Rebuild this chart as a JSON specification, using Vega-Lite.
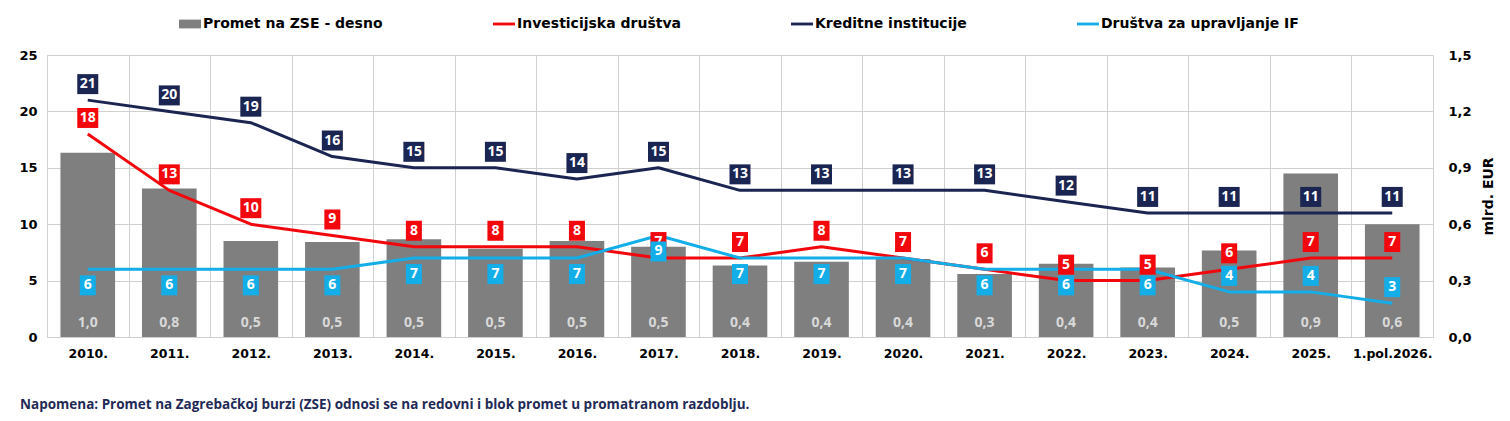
{
  "$schema": "https://vega.github.io/schema/vega-lite/v6.json",
  "width": 1386,
  "height": 282,
  "autosize": "none",
  "padding": {"left": 47, "top": 55, "right": 77, "bottom": 84},
  "background": "white",
  "datasets": {
    "promet": [
      {"godina": "2010.", "iznos": 0.98},
      {"godina": "2011.", "iznos": 0.79},
      {"godina": "2012.", "iznos": 0.51},
      {"godina": "2013.", "iznos": 0.505},
      {"godina": "2014.", "iznos": 0.52},
      {"godina": "2015.", "iznos": 0.47},
      {"godina": "2016.", "iznos": 0.51},
      {"godina": "2017.", "iznos": 0.48},
      {"godina": "2018.", "iznos": 0.38},
      {"godina": "2019.", "iznos": 0.40},
      {"godina": "2020.", "iznos": 0.415},
      {"godina": "2021.", "iznos": 0.335},
      {"godina": "2022.", "iznos": 0.39},
      {"godina": "2023.", "iznos": 0.37},
      {"godina": "2024.", "iznos": 0.46},
      {"godina": "2025.", "iznos": 0.87},
      {"godina": "1.pol.2026.", "iznos": 0.60}
    ],
    "linije": [
      {"godina": "2010.", "serija": "Kreditne institucije", "vrijednost": 21},
      {"godina": "2011.", "serija": "Kreditne institucije", "vrijednost": 20},
      {"godina": "2012.", "serija": "Kreditne institucije", "vrijednost": 19},
      {"godina": "2013.", "serija": "Kreditne institucije", "vrijednost": 16},
      {"godina": "2014.", "serija": "Kreditne institucije", "vrijednost": 15},
      {"godina": "2015.", "serija": "Kreditne institucije", "vrijednost": 15},
      {"godina": "2016.", "serija": "Kreditne institucije", "vrijednost": 14},
      {"godina": "2017.", "serija": "Kreditne institucije", "vrijednost": 15},
      {"godina": "2018.", "serija": "Kreditne institucije", "vrijednost": 13},
      {"godina": "2019.", "serija": "Kreditne institucije", "vrijednost": 13},
      {"godina": "2020.", "serija": "Kreditne institucije", "vrijednost": 13},
      {"godina": "2021.", "serija": "Kreditne institucije", "vrijednost": 13},
      {"godina": "2022.", "serija": "Kreditne institucije", "vrijednost": 12},
      {"godina": "2023.", "serija": "Kreditne institucije", "vrijednost": 11},
      {"godina": "2024.", "serija": "Kreditne institucije", "vrijednost": 11},
      {"godina": "2025.", "serija": "Kreditne institucije", "vrijednost": 11},
      {"godina": "1.pol.2026.", "serija": "Kreditne institucije", "vrijednost": 11},
      {"godina": "2010.", "serija": "Investicijska društva", "vrijednost": 18},
      {"godina": "2011.", "serija": "Investicijska društva", "vrijednost": 13},
      {"godina": "2012.", "serija": "Investicijska društva", "vrijednost": 10},
      {"godina": "2013.", "serija": "Investicijska društva", "vrijednost": 9},
      {"godina": "2014.", "serija": "Investicijska društva", "vrijednost": 8},
      {"godina": "2015.", "serija": "Investicijska društva", "vrijednost": 8},
      {"godina": "2016.", "serija": "Investicijska društva", "vrijednost": 8},
      {"godina": "2017.", "serija": "Investicijska društva", "vrijednost": 7},
      {"godina": "2018.", "serija": "Investicijska društva", "vrijednost": 7},
      {"godina": "2019.", "serija": "Investicijska društva", "vrijednost": 8},
      {"godina": "2020.", "serija": "Investicijska društva", "vrijednost": 7},
      {"godina": "2021.", "serija": "Investicijska društva", "vrijednost": 6},
      {"godina": "2022.", "serija": "Investicijska društva", "vrijednost": 5},
      {"godina": "2023.", "serija": "Investicijska društva", "vrijednost": 5},
      {"godina": "2024.", "serija": "Investicijska društva", "vrijednost": 6},
      {"godina": "2025.", "serija": "Investicijska društva", "vrijednost": 7},
      {"godina": "1.pol.2026.", "serija": "Investicijska društva", "vrijednost": 7},
      {"godina": "2010.", "serija": "Društva za upravljanje IF", "vrijednost": 6},
      {"godina": "2011.", "serija": "Društva za upravljanje IF", "vrijednost": 6},
      {"godina": "2012.", "serija": "Društva za upravljanje IF", "vrijednost": 6},
      {"godina": "2013.", "serija": "Društva za upravljanje IF", "vrijednost": 6},
      {"godina": "2014.", "serija": "Društva za upravljanje IF", "vrijednost": 7},
      {"godina": "2015.", "serija": "Društva za upravljanje IF", "vrijednost": 7},
      {"godina": "2016.", "serija": "Društva za upravljanje IF", "vrijednost": 7},
      {"godina": "2017.", "serija": "Društva za upravljanje IF", "vrijednost": 9},
      {"godina": "2018.", "serija": "Društva za upravljanje IF", "vrijednost": 7},
      {"godina": "2019.", "serija": "Društva za upravljanje IF", "vrijednost": 7},
      {"godina": "2020.", "serija": "Društva za upravljanje IF", "vrijednost": 7},
      {"godina": "2021.", "serija": "Društva za upravljanje IF", "vrijednost": 6},
      {"godina": "2022.", "serija": "Društva za upravljanje IF", "vrijednost": 6},
      {"godina": "2023.", "serija": "Društva za upravljanje IF", "vrijednost": 6},
      {"godina": "2024.", "serija": "Društva za upravljanje IF", "vrijednost": 4},
      {"godina": "2025.", "serija": "Društva za upravljanje IF", "vrijednost": 4},
      {"godina": "1.pol.2026.", "serija": "Društva za upravljanje IF", "vrijednost": 3}
    ]
  },
  "title": {
    "text": "Napomena: Promet na Zagrebačkoj burzi (ZSE) odnosi se na redovni i blok promet u promatranom razdoblju.",
    "orient": "bottom",
    "anchor": "start",
    "frame": "group",
    "dx": -27,
    "offset": 38,
    "font": "Open Sans",
    "fontSize": 13.5,
    "fontWeight": "bold",
    "color": "#1f2a56"
  },
  "encoding": {
    "x": {
      "field": "godina",
      "type": "nominal",
      "title": null,
      "scale": {
        "domain": ["2010.", "2011.", "2012.", "2013.", "2014.", "2015.", "2016.", "2017.", "2018.", "2019.", "2020.", "2021.", "2022.", "2023.", "2024.", "2025.", "1.pol.2026."],
        "paddingInner": 0,
        "paddingOuter": 0
      },
      "axis": {
        "labelAngle": 0,
        "labelOverlap": false,
        "grid": true,
        "tickBand": "extent",
        "ticks": false,
        "domain": false,
        "labelPadding": 10,
        "labelFontSize": 12.5
      }
    }
  },
  "layer": [
    {
      "data": {"name": "promet"},
      "layer": [
        {
          "mark": {"type": "bar", "width": {"band": 0.67}, "color": "#7f7f7f"},
          "encoding": {
            "y": {
              "field": "iznos",
              "type": "quantitative",
              "title": "mlrd. EUR",
              "scale": {"domain": [0, 1.5], "nice": false},
              "axis": {
                "orient": "right",
                "values": [0, 0.3, 0.6, 0.9, 1.2, 1.5],
                "format": ".1f",
                "grid": false,
                "labelPadding": 15,
                "titleAngle": 270,
                "titleBaseline": "top",
                "titlePadding": 10
              }
            }
          }
        },
        {
          "mark": {"type": "text", "dy": -14, "baseline": "middle", "font": "Open Sans", "fontSize": 14, "fontWeight": "bold", "color": "#d9d9d9"},
          "encoding": {
            "y": {"datum": 0, "type": "quantitative", "scale": {"domain": [0, 1.5], "nice": false}},
            "text": {"field": "iznos", "type": "quantitative", "format": ".1f"}
          }
        }
      ]
    },
    {
      "data": {"name": "linije"},
      "encoding": {
        "y": {
          "field": "vrijednost",
          "type": "quantitative",
          "title": null,
          "scale": {"domain": [0, 25], "nice": false},
          "axis": {
            "orient": "left",
            "values": [0, 5, 10, 15, 20, 25],
            "grid": true,
            "labelPadding": 10
          }
        },
        "color": {
          "field": "serija",
          "type": "nominal",
          "scale": {
            "domain": ["Promet na ZSE - desno", "Investicijska društva", "Kreditne institucije", "Društva za upravljanje IF"],
            "range": ["#7f7f7f", "#f2070d", "#1b2552", "#13aee8"]
          },
          "legend": {
            "orient": "none",
            "legendX": 132,
            "legendY": -42,
            "direction": "horizontal",
            "title": null,
            "columnPadding": 110,
            "padding": 0,
            "labelOffset": 2,
            "labelLimit": 300,
            "labelFont": "DejaVu Sans",
            "labelFontSize": 14,
            "labelFontWeight": "bold",
            "labelColor": "#000000",
            "symbolSize": 484,
            "symbolStrokeWidth": 0,
            "encode": {
              "symbols": {
                "update": {
                  "shape": {"signal": "datum.value === 'Promet na ZSE - desno' ? 'M-1,-0.4H1V0.4H-1Z' : 'M-1,-0.13H1V0.13H-1Z'"},
                  "fill": {"signal": "scale('color', datum.value)"},
                  "stroke": {"value": "transparent"},
                  "opacity": {"value": 1}
                }
              }
            }
          }
        }
      },
      "layer": [
        {
          "mark": {"type": "line", "strokeWidth": 3, "strokeJoin": "round"},
          "encoding": {}
        },
        {
          "transform": [{"filter": "datum.serija !== 'Društva za upravljanje IF' || datum.vrijednost < 5"}],
          "mark": {"type": "point", "filled": true, "size": 400, "opacity": 1, "yOffset": -16},
          "encoding": {
            "shape": {
              "condition": {"test": "datum.vrijednost >= 10", "value": "M-1.05,-1H1.05V1H-1.05Z"},
              "value": "M-0.8,-1H0.8V1H-0.8Z"
            }
          }
        },
        {
          "transform": [{"filter": "datum.serija !== 'Društva za upravljanje IF' || datum.vrijednost < 5"}],
          "mark": {"type": "text", "dy": -16, "baseline": "middle", "font": "Open Sans", "fontSize": 14, "fontWeight": "bold"},
          "encoding": {"text": {"field": "vrijednost", "type": "quantitative"}, "color": {"value": "white"}}
        },
        {
          "transform": [{"filter": "datum.serija === 'Društva za upravljanje IF' && datum.vrijednost >= 5"}],
          "mark": {"type": "point", "filled": true, "size": 400, "opacity": 1, "yOffset": 16},
          "encoding": {
            "shape": {
              "condition": {"test": "datum.vrijednost >= 10", "value": "M-1.05,-1H1.05V1H-1.05Z"},
              "value": "M-0.8,-1H0.8V1H-0.8Z"
            }
          }
        },
        {
          "transform": [{"filter": "datum.serija === 'Društva za upravljanje IF' && datum.vrijednost >= 5"}],
          "mark": {"type": "text", "dy": 16, "baseline": "middle", "font": "Open Sans", "fontSize": 14, "fontWeight": "bold"},
          "encoding": {"text": {"field": "vrijednost", "type": "quantitative"}, "color": {"value": "white"}}
        }
      ]
    }
  ],
  "resolve": {"scale": {"y": "independent"}},
  "config": {
    "locale": {"number": {"decimal": ",", "thousands": ".", "grouping": [3], "currency": ["", " €"]}},
    "font": "Open Sans",
    "view": {"stroke": "#d0d0d0"},
    "axis": {
      "labelFont": "DejaVu Sans",
      "labelFontSize": 13,
      "labelFontWeight": "bold",
      "labelColor": "#000000",
      "titleFont": "DejaVu Sans",
      "titleFontSize": 14,
      "titleFontWeight": "bold",
      "titleColor": "#000000",
      "gridColor": "#d0d0d0",
      "gridWidth": 1,
      "ticks": false,
      "domain": false
    }
  }
}
